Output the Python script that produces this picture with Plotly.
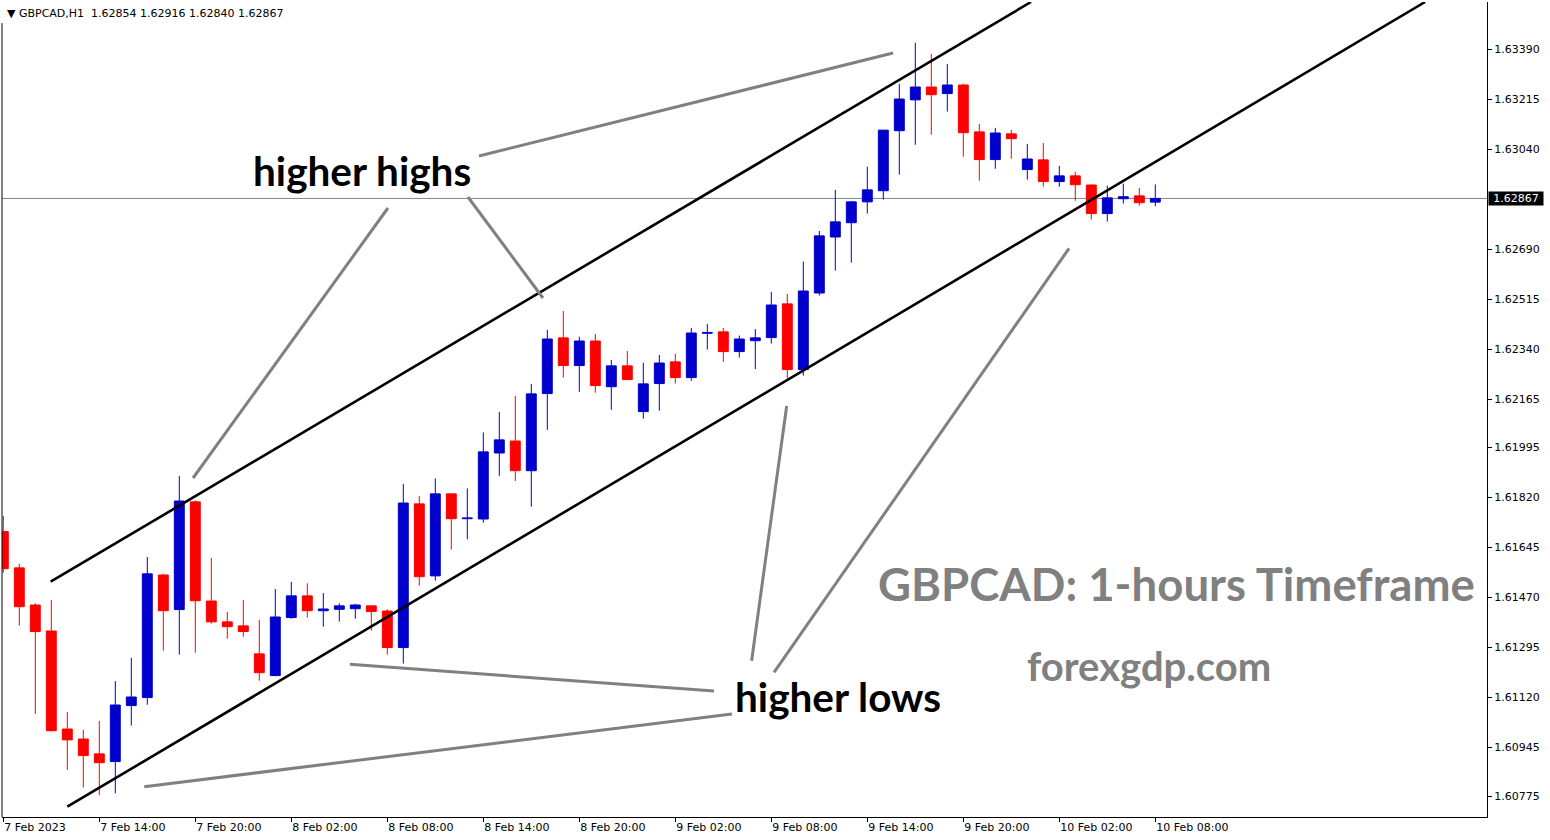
import plotly.graph_objects as go

# ---------------- data ----------------
symbol = "GBPCAD,H1"
time_labels = ["7 Feb 2023", "7 Feb 14:00", "7 Feb 20:00", "8 Feb 02:00", "8 Feb 08:00",
               "8 Feb 14:00", "8 Feb 20:00", "9 Feb 02:00", "9 Feb 08:00", "9 Feb 14:00",
               "9 Feb 20:00", "10 Feb 02:00", "10 Feb 08:00"]
tick_bar_index = [0, 6, 12, 18, 24, 30, 36, 42, 48, 54, 60, 66, 72]

price_ticks = [1.63390, 1.63215, 1.63040, 1.62690, 1.62515, 1.62340, 1.62165, 1.61995,
               1.61820, 1.61645, 1.61470, 1.61295, 1.61120, 1.60945, 1.60775]

opens = [1.61701, 1.61574, 1.61444, 1.61353, 1.61010, 1.60975, 1.60923, 1.60896, 1.61092, 1.61120,
         1.61549, 1.61428, 1.61805, 1.61458, 1.61385, 1.61371, 1.61273, 1.61197, 1.61400, 1.61476,
         1.61424, 1.61429, 1.61431, 1.61441, 1.61423, 1.61295, 1.61798, 1.61546, 1.61833, 1.61746,
         1.61745, 1.61976, 1.62018, 1.61914, 1.62184, 1.62379, 1.62282, 1.62368, 1.62208, 1.62281,
         1.62121, 1.62219, 1.62295, 1.62240, 1.62395, 1.62400, 1.62331, 1.62369, 1.62380, 1.62498,
         1.62268, 1.62536, 1.62732, 1.62782, 1.62855, 1.62894, 1.63104, 1.63212, 1.63257, 1.63234,
         1.63264, 1.63100, 1.63003, 1.63093, 1.62968, 1.63002, 1.62926, 1.62946, 1.62914, 1.62814,
         1.62866, 1.62876, 1.62854]
highs = [1.61756, 1.61588, 1.61450, 1.61462, 1.61070, 1.61007, 1.61038, 1.61178, 1.61259, 1.61612,
         1.61553, 1.61896, 1.61810, 1.61609, 1.61420, 1.61462, 1.61392, 1.61500, 1.61525, 1.61520,
         1.61486, 1.61450, 1.61448, 1.61443, 1.61429, 1.61868, 1.61826, 1.61887, 1.61835, 1.61852,
         1.62048, 1.62120, 1.62176, 1.62218, 1.62407, 1.62473, 1.62383, 1.62393, 1.62302, 1.62333,
         1.62292, 1.62319, 1.62323, 1.62414, 1.62428, 1.62414, 1.62387, 1.62410, 1.62540, 1.62533,
         1.62646, 1.62753, 1.62897, 1.62858, 1.62978, 1.63107, 1.63268, 1.63412, 1.63373, 1.63338,
         1.63268, 1.63128, 1.63114, 1.63107, 1.63058, 1.63061, 1.62981, 1.62960, 1.62916, 1.62912,
         1.62919, 1.62904, 1.62916]
lows = [1.61557, 1.61372, 1.61063, 1.61001, 1.60867, 1.60805, 1.60778, 1.60785, 1.61022, 1.61095,
        1.61284, 1.61270, 1.61277, 1.61379, 1.61326, 1.61333, 1.61179, 1.61195, 1.61396, 1.61400,
        1.61368, 1.61386, 1.61396, 1.61354, 1.61270, 1.61239, 1.61512, 1.61529, 1.61638, 1.61674,
        1.61732, 1.61896, 1.61878, 1.61788, 1.62057, 1.62240, 1.62190, 1.62187, 1.62127, 1.62231,
        1.62096, 1.62124, 1.62219, 1.62229, 1.62338, 1.62295, 1.62310, 1.62270, 1.62359, 1.62237,
        1.62247, 1.62527, 1.62614, 1.62642, 1.62814, 1.62863, 1.62950, 1.63055, 1.63090, 1.63171,
        1.63013, 1.62929, 1.62971, 1.63006, 1.62933, 1.62908, 1.62908, 1.62859, 1.62793, 1.62786,
        1.62849, 1.62842, 1.62840]
closes = [1.61571, 1.61438, 1.61351, 1.61004, 1.60972, 1.60917, 1.60892, 1.61094, 1.61122, 1.61553,
          1.61424, 1.61808, 1.61459, 1.61385, 1.61368, 1.61351, 1.61207, 1.61402, 1.61476, 1.61424,
          1.61430, 1.61441, 1.61444, 1.61421, 1.61295, 1.61801, 1.61543, 1.61833, 1.61746, 1.61749,
          1.61980, 1.62022, 1.61914, 1.62183, 1.62375, 1.62282, 1.62368, 1.62212, 1.62281, 1.62233,
          1.62218, 1.62291, 1.62240, 1.62396, 1.62398, 1.62331, 1.62375, 1.62379, 1.62494, 1.62268,
          1.62543, 1.62736, 1.62785, 1.62855, 1.62897, 1.63106, 1.63215, 1.63257, 1.63230, 1.63264,
          1.63097, 1.63003, 1.63096, 1.63076, 1.63005, 1.62926, 1.62946, 1.62915, 1.62814, 1.62869,
          1.62873, 1.62852, 1.62867]

# channel lines (bar index, price)
upper_channel_x = [2.96, 64.23]
upper_channel_y = [1.615255, 1.635545]
lower_channel_x = [4.0, 88.86]
lower_channel_y = [1.60738, 1.635545]

# pointer lines (bar index pairs, price pairs)
pointer_x = [[29.73, 55.61], [24.04, 11.86], [29.04, 33.73],
             [21.66, 44.42], [45.54, 8.81], [46.77, 48.96], [48.17, 66.61]]
pointer_y = [[1.630155, 1.63376], [1.628335, 1.618885], [1.62872, 1.625185],
             [1.612365, 1.61143], [1.610625, 1.60808], [1.61249, 1.621405], [1.612085, 1.626925]]

# text labels
label_texts = ["higher highs", "higher lows"]
label_x = [15.48, 45.60]
label_y = [1.62965, 1.61125]
watermark_texts = ["GBPCAD: 1-hours Timeframe", "forexgdp.com"]
watermark_x = [73.30, 71.60]
watermark_y = [1.61521, 1.61232]

# ---------------- figure ----------------
UP = "#0000CD"
DN = "#FF0000"
n = len(opens)
idx = list(range(n))

fig = go.Figure()

# wicks
for is_up, col in ((True, UP), (False, DN)):
    wx, wy = [], []
    for i in idx:
        if (closes[i] >= opens[i]) == is_up:
            wx += [i, i, None]
            wy += [lows[i], highs[i], None]
    fig.add_trace(go.Scatter(x=wx, y=wy, mode="lines", line=dict(color=col, width=1),
                             hoverinfo="skip", showlegend=False))

# bodies
for is_up, col in ((True, UP), (False, DN)):
    bx, bbase, bh = [], [], []
    for i in idx:
        if (closes[i] >= opens[i]) == is_up:
            bx.append(i)
            bbase.append(min(opens[i], closes[i]))
            bh.append(abs(closes[i] - opens[i]))
    fig.add_trace(go.Bar(x=bx, y=bh, base=bbase, width=0.62,
                         marker=dict(color=col, line=dict(color=col, width=1)),
                         hoverinfo="skip", showlegend=False))

# channel lines
for xs, ys in ((upper_channel_x, upper_channel_y), (lower_channel_x, lower_channel_y)):
    fig.add_trace(go.Scatter(x=xs, y=ys, mode="lines", line=dict(color="black", width=2.6),
                             hoverinfo="skip", showlegend=False))

# pointer lines
for xs, ys in zip(pointer_x, pointer_y):
    fig.add_trace(go.Scatter(x=xs, y=ys, mode="lines", line=dict(color="#808080", width=3),
                             hoverinfo="skip", showlegend=False))

annotations = []
for t, x, y in zip(label_texts, label_x, label_y):
    annotations.append(dict(x=x, y=y, xref="x", yref="y", text=t, showarrow=False,
                            xanchor="left", yanchor="middle",
                            font=dict(family="Lato", size=40.5, color="black", weight="bold")))
wm_sizes = [45.5, 40]
for t, x, y, s in zip(watermark_texts, watermark_x, watermark_y, wm_sizes):
    annotations.append(dict(x=x, y=y, xref="x", yref="y", text=t, showarrow=False,
                            xanchor="center", yanchor="middle",
                            font=dict(family="Lato", size=s, color="#808080", weight="bold")))

# header text
last = n - 1
header = "\u25BC\u00a0" + symbol + "\u00a0\u00a0" + " ".join(
    f"{v:.5f}" for v in (opens[last], highs[last], lows[last], closes[last]))
annotations.append(dict(x=0, y=1, xref="paper", yref="paper", xshift=3, yshift=-3,
                        text=header, showarrow=False, xanchor="left", yanchor="top",
                        font=dict(family="DejaVu Sans", size=11, color="black")))
# current price label
annotations.append(dict(x=1, y=closes[last], xref="paper", yref="y", xshift=1,
                        text=f"{closes[last]:.5f}", showarrow=False, xanchor="left",
                        yanchor="middle", bgcolor="black", width=54, height=13, borderpad=0,
                        font=dict(family="DejaVu Sans", size=11, color="white")))

shapes = [
    dict(type="line", xref="paper", yref="y", x0=0, x1=1, y0=closes[last], y1=closes[last],
         line=dict(color="#7a8794", width=1), layer="below"),
    dict(type="line", xref="paper", yref="paper", x0=0, x1=0, y0=0, y1=0.974,
         line=dict(color="black", width=1)),
]

fig.update_layout(
    width=1550, height=840,
    margin=dict(l=2, r=63, t=2, b=23),
    paper_bgcolor="white", plot_bgcolor="white",
    barmode="overlay", showlegend=False,
    annotations=annotations, shapes=shapes,
    xaxis=dict(range=[-0.081, 92.73], showgrid=False, zeroline=False,
               showline=True, linecolor="black", linewidth=1,
               ticks="outside", ticklen=4, tickcolor="black",
               tickvals=tick_bar_index, ticktext=time_labels,
               ticklabelposition="outside right",
               tickfont=dict(family="DejaVu Sans", size=11, color="black"),
               automargin=False, fixedrange=True),
    yaxis=dict(range=[1.60702, 1.635545], side="right", showgrid=False, zeroline=False,
               showline=True, linecolor="black", linewidth=1,
               ticks="outside", ticklen=4, tickcolor="black",
               tickvals=price_ticks, ticktext=[f"{v:.5f}" for v in price_ticks],
               tickfont=dict(family="DejaVu Sans", size=11, color="black"),
               automargin=False, fixedrange=True),
)

fig.write_html("out.html", config={"displayModeBar": False},
               post_script="document.body.style.margin='0';document.body.style.overflow='hidden';")
